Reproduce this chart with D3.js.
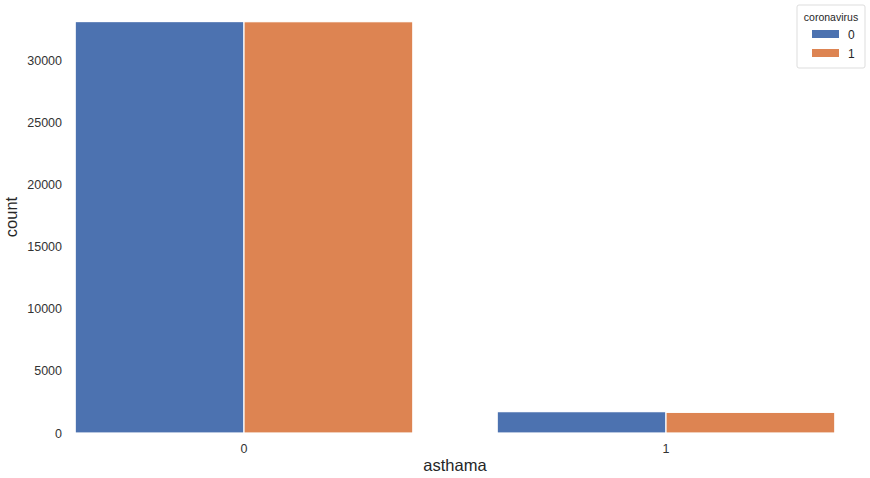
<!DOCTYPE html>
<html>
<head>
<meta charset="utf-8">
<script src="https://cdn.jsdelivr.net/npm/d3@7"></script>
<style>
  html, body { margin: 0; padding: 0; background: #fff; }
  svg { display: block; font-family: "Liberation Sans", Arial, sans-serif; }
</style>
</head>
<body>
<svg id="chart" width="870" height="478"></svg>
<script>
// Counts of asthma status, split by coronavirus result
const categories = ["0", "1"];
const hueLevels = ["0", "1"];
const countsHue0 = [33150, 1720];
const countsHue1 = [33140, 1665];
const yTicks = [0, 5000, 10000, 15000, 20000, 25000, 30000];
const colors = ["#4c72b0", "#dd8452"];

const svg = d3.select("#chart");
const W = 870, H = 478;
const plot = { left: 33, right: 877, top: 1, bottom: 433 };

const x = d3.scaleBand().domain(categories).range([plot.left, plot.right]).paddingInner(0).paddingOuter(0);
const yMax = d3.max(countsHue0.concat(countsHue1)) * 1.05;
const y = d3.scaleLinear().domain([0, yMax]).range([plot.bottom, plot.top]);
const groupW = x.bandwidth() * 0.8;
const sub = d3.scaleBand().domain(hueLevels).range([0, groupW]);

const rows = [];
categories.forEach((c, i) => {
  rows.push({ cat: c, hue: "0", v: countsHue0[i] });
  rows.push({ cat: c, hue: "1", v: countsHue1[i] });
});

svg.append("g").selectAll("rect").data(rows).join("rect")
  .attr("x", d => x(d.cat) + (x.bandwidth() - groupW) / 2 + sub(d.hue))
  .attr("y", d => y(d.v))
  .attr("width", sub.bandwidth())
  .attr("height", d => y(0) - y(d.v))
  .attr("fill", d => colors[hueLevels.indexOf(d.hue)])
  .attr("stroke", "#fff")
  .attr("stroke-width", 1.2);

// y axis labels (no tick lines, no spine)
const yAxis = d3.axisLeft(y).tickValues(yTicks).tickSize(0).tickPadding(0).tickFormat(d3.format("d"));
const yg = svg.append("g").attr("transform", `translate(62,0)`).call(yAxis);
yg.select(".domain").remove();
yg.selectAll("text").attr("font-size", 12.5).attr("fill", "#333").attr("font-family", "Liberation Sans, Arial, sans-serif");

// x axis labels
const xAxis = d3.axisBottom(x).tickSize(0).tickPadding(0);
const xg = svg.append("g").attr("transform", `translate(0,${plot.bottom + 11})`).call(xAxis);
xg.select(".domain").remove();
xg.selectAll("text").attr("font-size", 12.5).attr("fill", "#333").attr("font-family", "Liberation Sans, Arial, sans-serif");

// axis titles
svg.append("text").attr("x", 455).attr("y", 471).attr("text-anchor", "middle")
  .attr("font-size", 16.5).attr("fill", "#262626").text("asthama");
svg.append("text").attr("transform", "translate(17,217) rotate(-90)").attr("text-anchor", "middle")
  .attr("font-size", 16.5).attr("fill", "#262626").text("count");

// legend
const lg = svg.append("g").attr("transform", "translate(797,5)");
lg.append("rect").attr("x", 0).attr("y", 0).attr("width", 68).attr("height", 63)
  .attr("rx", 2).attr("fill", "#fff").attr("stroke", "#ddd").attr("stroke-width", 1);
lg.append("text").attr("x", 34).attr("y", 16).attr("text-anchor", "middle")
  .attr("font-size", 10.5).attr("fill", "#262626").text("coronavirus");
hueLevels.forEach((h, i) => {
  lg.append("rect").attr("x", 15).attr("y", 25 + i * 19).attr("width", 27).attr("height", 8)
    .attr("fill", colors[i]);
  lg.append("text").attr("x", 51).attr("y", 33.5 + i * 19)
    .attr("font-size", 12).attr("fill", "#262626").text(h);
});
</script>
</body>
</html>
